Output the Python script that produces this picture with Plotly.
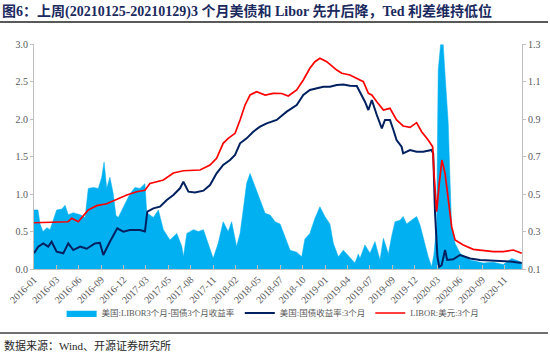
import plotly.graph_objects as go

# ---------------- data ----------------
ted_dates = ["2016-01-04","2016-01-19","2016-01-27","2016-02-07","2016-02-22","2016-03-05","2016-03-24","2016-03-30",
             "2016-04-19","2016-05-01","2016-05-13","2016-06-01","2016-06-27","2016-07-16","2016-07-28","2016-08-16",
             "2016-09-04","2016-09-17","2016-09-26","2016-10-06","2016-10-18","2016-10-31","2016-11-10","2016-11-19",
             "2016-12-08","2017-01-02","2017-01-21","2017-02-09","2017-02-28","2017-03-07","2017-04-01","2017-04-20",
             "2017-05-09","2017-06-03","2017-06-29","2017-07-18","2017-07-24","2017-08-06","2017-08-31","2017-09-19",
             "2017-10-08","2017-10-26","2017-11-14","2017-12-03","2017-12-22","2018-01-10","2018-01-23","2018-02-11",
             "2018-02-24","2018-03-08","2018-03-21","2018-04-03","2018-04-22","2018-05-11","2018-05-30","2018-06-18",
             "2018-07-07","2018-07-26","2018-08-14","2018-09-02","2018-09-27","2018-10-16","2018-10-28","2018-11-16",
             "2018-12-05","2018-12-24","2019-01-12","2019-01-31","2019-02-13","2019-03-04","2019-03-23","2019-04-05",
             "2019-04-24","2019-05-06","2019-05-19","2019-05-25","2019-06-13","2019-07-02","2019-07-21","2019-08-09",
             "2019-08-22","2019-09-10","2019-09-22","2019-10-05","2019-10-24","2019-11-05","2019-11-18","2019-12-07",
             "2019-12-26","2020-01-08","2020-01-20","2020-02-08","2020-02-21","2020-03-01","2020-03-11","2020-03-17",
             "2020-03-26","2020-04-05","2020-04-12","2020-04-18","2020-04-24","2020-04-30","2020-05-07","2020-05-20",
             "2020-06-08","2020-06-27","2020-07-16","2020-08-10","2020-09-04","2020-10-12","2020-11-19","2020-12-21",
             "2021-01-09","2021-01-28"]
ted_values = [0.415,0.415,0.34,0.30,0.32,0.31,0.39,0.415,
              0.42,0.44,0.39,0.40,0.39,0.375,0.53,0.535,
              0.53,0.59,0.67,0.53,0.59,0.50,0.385,0.375,
              0.43,0.50,0.535,0.53,0.555,0.40,0.375,0.415,
              0.31,0.255,0.29,0.22,0.165,0.29,0.31,0.30,
              0.31,0.237,0.157,0.237,0.352,0.30,0.352,0.22,
              0.29,0.415,0.557,0.61,0.54,0.468,0.397,0.388,
              0.352,0.34,0.272,0.20,0.19,0.165,0.26,0.29,
              0.37,0.432,0.38,0.34,0.237,0.165,0.20,0.18,
              0.148,0.132,0.18,0.156,0.228,0.184,0.246,0.148,
              0.264,0.18,0.272,0.352,0.36,0.38,0.34,0.36,
              0.38,0.335,0.264,0.165,0.112,0.18,0.335,1.16,
              1.296,1.296,1.136,0.984,0.877,0.61,0.326,0.237,
              0.184,0.165,0.148,0.14,0.132,0.136,0.124,0.156,
              0.148,0.136]

ust_dates = ["2016-01-04","2016-01-20","2016-02-08","2016-02-27","2016-03-11","2016-03-30","2016-04-24","2016-05-13",
             "2016-06-01","2016-06-27","2016-07-22","2016-08-22","2016-09-10","2016-09-23","2016-10-18","2016-11-15",
             "2016-12-08","2017-01-02","2017-02-09","2017-02-28","2017-03-09","2017-04-01","2017-04-26","2017-05-22",
             "2017-06-16","2017-07-11","2017-07-24","2017-08-12","2017-09-06","2017-10-08","2017-11-02","2017-11-27",
             "2017-12-22","2018-01-17","2018-02-05","2018-02-24","2018-03-21","2018-04-15","2018-05-11","2018-06-05",
             "2018-07-13","2018-08-20","2018-09-27","2018-10-22","2018-11-16","2018-12-12","2019-01-06","2019-01-31",
             "2019-02-26","2019-03-23","2019-04-17","2019-05-13","2019-05-25","2019-06-13","2019-06-26","2019-07-09",
             "2019-07-28","2019-08-16","2019-08-28","2019-09-16","2019-09-29","2019-10-11","2019-10-30","2019-11-05",
             "2019-12-01","2019-12-26","2020-01-20","2020-02-21","2020-02-27","2020-03-05","2020-03-14","2020-03-21",
             "2020-03-30","2020-04-12","2020-04-20","2020-05-13","2020-06-08","2020-07-16","2020-08-23","2020-09-30",
             "2020-11-07","2020-12-15","2021-01-28"]
ust_values = [0.209,0.298,0.342,0.298,0.364,0.231,0.209,0.342,
              0.253,0.30,0.27,0.34,0.35,0.187,0.364,0.542,
              0.498,0.52,0.52,0.50,0.764,0.809,0.831,0.92,
              0.987,1.076,1.164,1.031,1.02,1.044,1.12,1.276,
              1.387,1.453,1.52,1.676,1.742,1.831,1.898,1.942,
              1.987,2.098,2.187,2.32,2.387,2.409,2.431,2.43,
              2.453,2.46,2.444,2.44,2.364,2.231,2.12,2.253,
              2.053,1.876,1.987,1.987,1.853,1.72,1.631,1.542,
              1.587,1.564,1.564,1.587,1.54,0.742,0.164,0.03,
              0.05,0.253,0.12,0.13,0.187,0.14,0.12,0.113,
              0.10,0.10,0.08]

libor_dates = ["2016-01-04","2016-03-05","2016-05-12","2016-05-26","2016-06-20","2016-07-28","2016-08-29","2016-10-06",
               "2016-11-10","2016-12-21","2017-01-28","2017-02-28","2017-03-19","2017-05-09","2017-06-16","2017-07-24",
               "2017-09-25","2017-11-02","2017-11-27","2017-12-22","2018-01-10","2018-02-05","2018-02-24","2018-03-15",
               "2018-04-03","2018-04-28","2018-05-30","2018-06-30","2018-08-01","2018-08-26","2018-09-27","2018-10-22",
               "2018-11-16","2018-12-05","2018-12-24","2019-01-19","2019-02-26","2019-03-17","2019-04-17","2019-05-13",
               "2019-06-07","2019-06-26","2019-07-09","2019-07-28","2019-08-22","2019-09-16","2019-10-11","2019-11-05",
               "2019-12-01","2019-12-26","2020-01-14","2020-02-08","2020-02-25","2020-03-01","2020-03-11","2020-03-21",
               "2020-03-31","2020-04-12","2020-04-24","2020-05-07","2020-05-20","2020-06-20","2020-07-28","2020-09-04",
               "2020-10-12","2020-11-19","2020-12-27","2021-01-28"]
libor_values = [0.617,0.62,0.63,0.676,0.63,0.787,0.845,0.87,
                0.92,0.987,1.03,1.05,1.14,1.187,1.28,1.31,
                1.32,1.387,1.476,1.676,1.742,1.809,1.987,2.187,
                2.32,2.364,2.32,2.342,2.34,2.307,2.387,2.52,
                2.676,2.764,2.809,2.764,2.653,2.609,2.587,2.542,
                2.498,2.342,2.32,2.231,2.12,2.142,1.987,1.907,
                1.889,1.951,1.831,1.72,1.631,1.276,0.764,1.142,
                1.453,1.276,0.964,0.564,0.387,0.32,0.262,0.244,
                0.231,0.231,0.253,0.209]

tick_dates = ["2016-01-04","2016-03-29","2016-06-22","2016-09-15","2016-12-09","2017-03-04","2017-05-28",
              "2017-08-21","2017-11-14","2018-02-07","2018-05-03","2018-07-27","2018-10-20","2019-01-13",
              "2019-04-08","2019-07-02","2019-09-25","2019-12-19","2020-03-13","2020-06-06","2020-08-31",
              "2020-11-23"]
tick_labels = ["2016-01","2016-03","2016-06","2016-09","2016-12","2017-03","2017-05","2017-08","2017-11",
               "2018-02","2018-05","2018-07","2018-10","2019-01","2019-04","2019-07","2019-09","2019-12",
               "2020-03","2020-06","2020-09","2020-11"]

left_ticks = [0.0, 0.5, 1.0, 1.5, 2.0, 2.5, 3.0]
right_ticks = [0.1, 0.3, 0.5, 0.7, 0.9, 1.1, 1.3]

names = ["美国:LIBOR3个月-国债3个月收益率", "美国:国债收益率:3个月", "LIBOR:美元:3个月"]
title_text = "图6：上周(20210125-20210129)3 个月美债和 Libor 先升后降，Ted 利差维持低位"
source_text = "数据来源：Wind、开源证券研究所"

# ---------------- figure ----------------
SERIF = "Liberation Serif, Noto Sans CJK SC, serif"
GREY = "#595959"

fig = go.Figure()
fig.add_trace(go.Scatter(x=ted_dates, y=ted_values, name=names[0], mode="lines",
                         line=dict(color="#00b0f0", width=0.5), fill="tozeroy",
                         fillcolor="#00b0f0", yaxis="y"))
fig.add_trace(go.Scatter(x=ust_dates, y=ust_values, name=names[1], mode="lines",
                         line=dict(color="#002060", width=2), yaxis="y2"))
fig.add_trace(go.Scatter(x=libor_dates, y=libor_values, name=names[2], mode="lines",
                         line=dict(color="#ff0000", width=1.7), yaxis="y2"))

L, R, T, B = 34, 28, 44, 87
W, H = 550, 356
pw = W - L - R
ph = H - T - B

axis_common = dict(showgrid=False, zeroline=False, showline=True, linecolor="#bfbfbf", linewidth=1,
                   tickcolor="#bfbfbf", automargin=False)

fig.update_layout(
    width=W, height=H,
    margin=dict(l=L, r=R, t=T, b=B, autoexpand=False),
    paper_bgcolor="white", plot_bgcolor="white",
    showlegend=True,
    legend=dict(orientation="h", x=0.49, xanchor="center", y=-(313 - (T + ph)) / ph, yanchor="middle",
                font=dict(family=SERIF, size=8.5, color=GREY), itemwidth=30,
                bgcolor="rgba(0,0,0,0)"),
    xaxis=dict(type="date", range=["2016-01-04", "2021-01-29"], tickvals=tick_dates, ticktext=tick_labels,
               tickangle=-45, tickfont=dict(family=SERIF, size=10, color=GREY),
               ticks="inside", ticklen=4, **axis_common),
    yaxis=dict(side="right", range=[0.1, 1.3], tickvals=right_ticks, ticktext=[f"{v:.1f}" for v in right_ticks],
               tickfont=dict(family=SERIF, size=10, color=GREY), ticks="outside", ticklen=3, **axis_common),
    yaxis2=dict(side="left", overlaying="y", range=[0, 3.0], tickvals=left_ticks,
                ticktext=[f"{v:.1f}" for v in left_ticks],
                tickfont=dict(family=SERIF, size=10, color=GREY), ticks="outside", ticklen=3, **axis_common),
    title=dict(text="<b>" + title_text + "</b>", x=2 / W, xanchor="left", y=1 - 11 / H, yanchor="middle",
               xref="container", yref="container",
               font=dict(family=SERIF, size=14, color="#1b2a5e")),
)

# separator lines under title and above source
fig.add_shape(type="line", xref="paper", yref="paper",
              x0=-L / pw, x1=(W - 2 - L) / pw, y0=1 + (T - 22) / ph, y1=1 + (T - 22) / ph,
              line=dict(color="#595959", width=2))
fig.add_shape(type="line", xref="paper", yref="paper",
              x0=-L / pw, x1=(W - 2 - L) / pw, y0=-(333 - (T + ph)) / ph, y1=-(333 - (T + ph)) / ph,
              line=dict(color="#404040", width=1.5))
fig.add_annotation(text=source_text, xref="paper", yref="paper", x=-L / pw + 2 / pw, xanchor="left",
                   y=-(345 - (T + ph)) / ph, yanchor="middle", showarrow=False,
                   font=dict(family=SERIF, size=11, color="#262626"))

fig.write_html("out.html", config={"responsive": False, "displayModeBar": False},
               post_script="document.body.style.margin='0';document.body.style.overflow='hidden';")
